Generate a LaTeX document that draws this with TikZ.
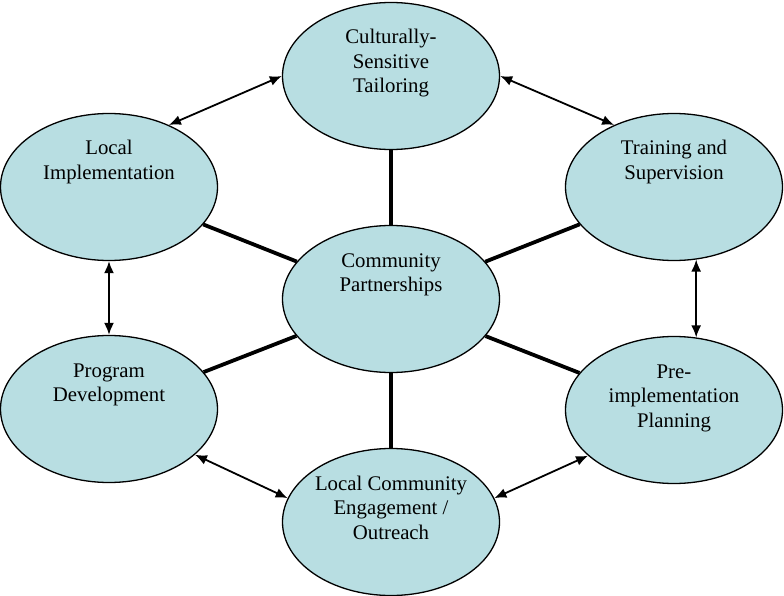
\documentclass[tikz,border=0pt]{standalone}
\usepackage{fontspec}
\setmainfont{Liberation Serif}
\usetikzlibrary{shapes.geometric,arrows.meta}

\definecolor{bubblefill}{RGB}{184,222,226}
\newcommand{\bubbletext}[1]{\begin{tabular}[t]{@{}c@{}}#1\end{tabular}}

\tikzset{
    bubble/.style={ellipse, draw=black, line width=1.3pt, fill=bubblefill,
        minimum width=217pt, minimum height=147pt, inner sep=0pt,
        font=\fontsize{20.8}{24.5}\selectfont,
        text height=15pt, text depth=79pt},
    spoke/.style={line width=3.8pt},
    link/.style={<->, line width=1.8pt}
}

\begin{document}
\begin{tikzpicture}[x=1pt, y=-1pt, >={Latex[length=12pt,width=10pt]}]

    % 1. Khung hinh
    \useasboundingbox (0,0) rectangle (784,596);

    % 2. Cac o hinh elip
    \node[bubble] (cp)    at (391,299) {\bubbletext{Community\\Partnerships}};
    \node[bubble] (tail)  at (391,76)  {\bubbletext{Culturally-\\Sensitive\\Tailoring}};
    \node[bubble] (loc)   at (109,187) {\bubbletext{Local\\Implementation}};
    \node[bubble] (train) at (674,187) {\bubbletext{Training and\\Supervision}};
    \node[bubble] (prog)  at (109,409) {\bubbletext{Program\\Development}};
    \node[bubble] (pre)   at (674,410) {\bubbletext{Pre-\\implementation\\Planning}};
    \node[bubble] (eng)   at (391,522) {\bubbletext{Local Community\\Engagement /\\Outreach}};

    % 3. Duong noi tu tam ra ngoai
    \foreach \n in {tail, loc, train, prog, pre, eng}
        \draw[spoke] (cp) -- (\n);

    % 4. Mui ten hai chieu giua cac o ke nhau
    \draw[link] (tail.west) -- (loc.46);
    \draw[link] (tail.east) -- (train.134);
    \draw[link] (loc.south) -- (prog.north);
    \draw[link] (train.-73) -- (pre.73);
    \draw[link] (prog.-28) -- (eng.167);
    \draw[link] (eng.13) -- (pre.-152);

\end{tikzpicture}
\end{document}
